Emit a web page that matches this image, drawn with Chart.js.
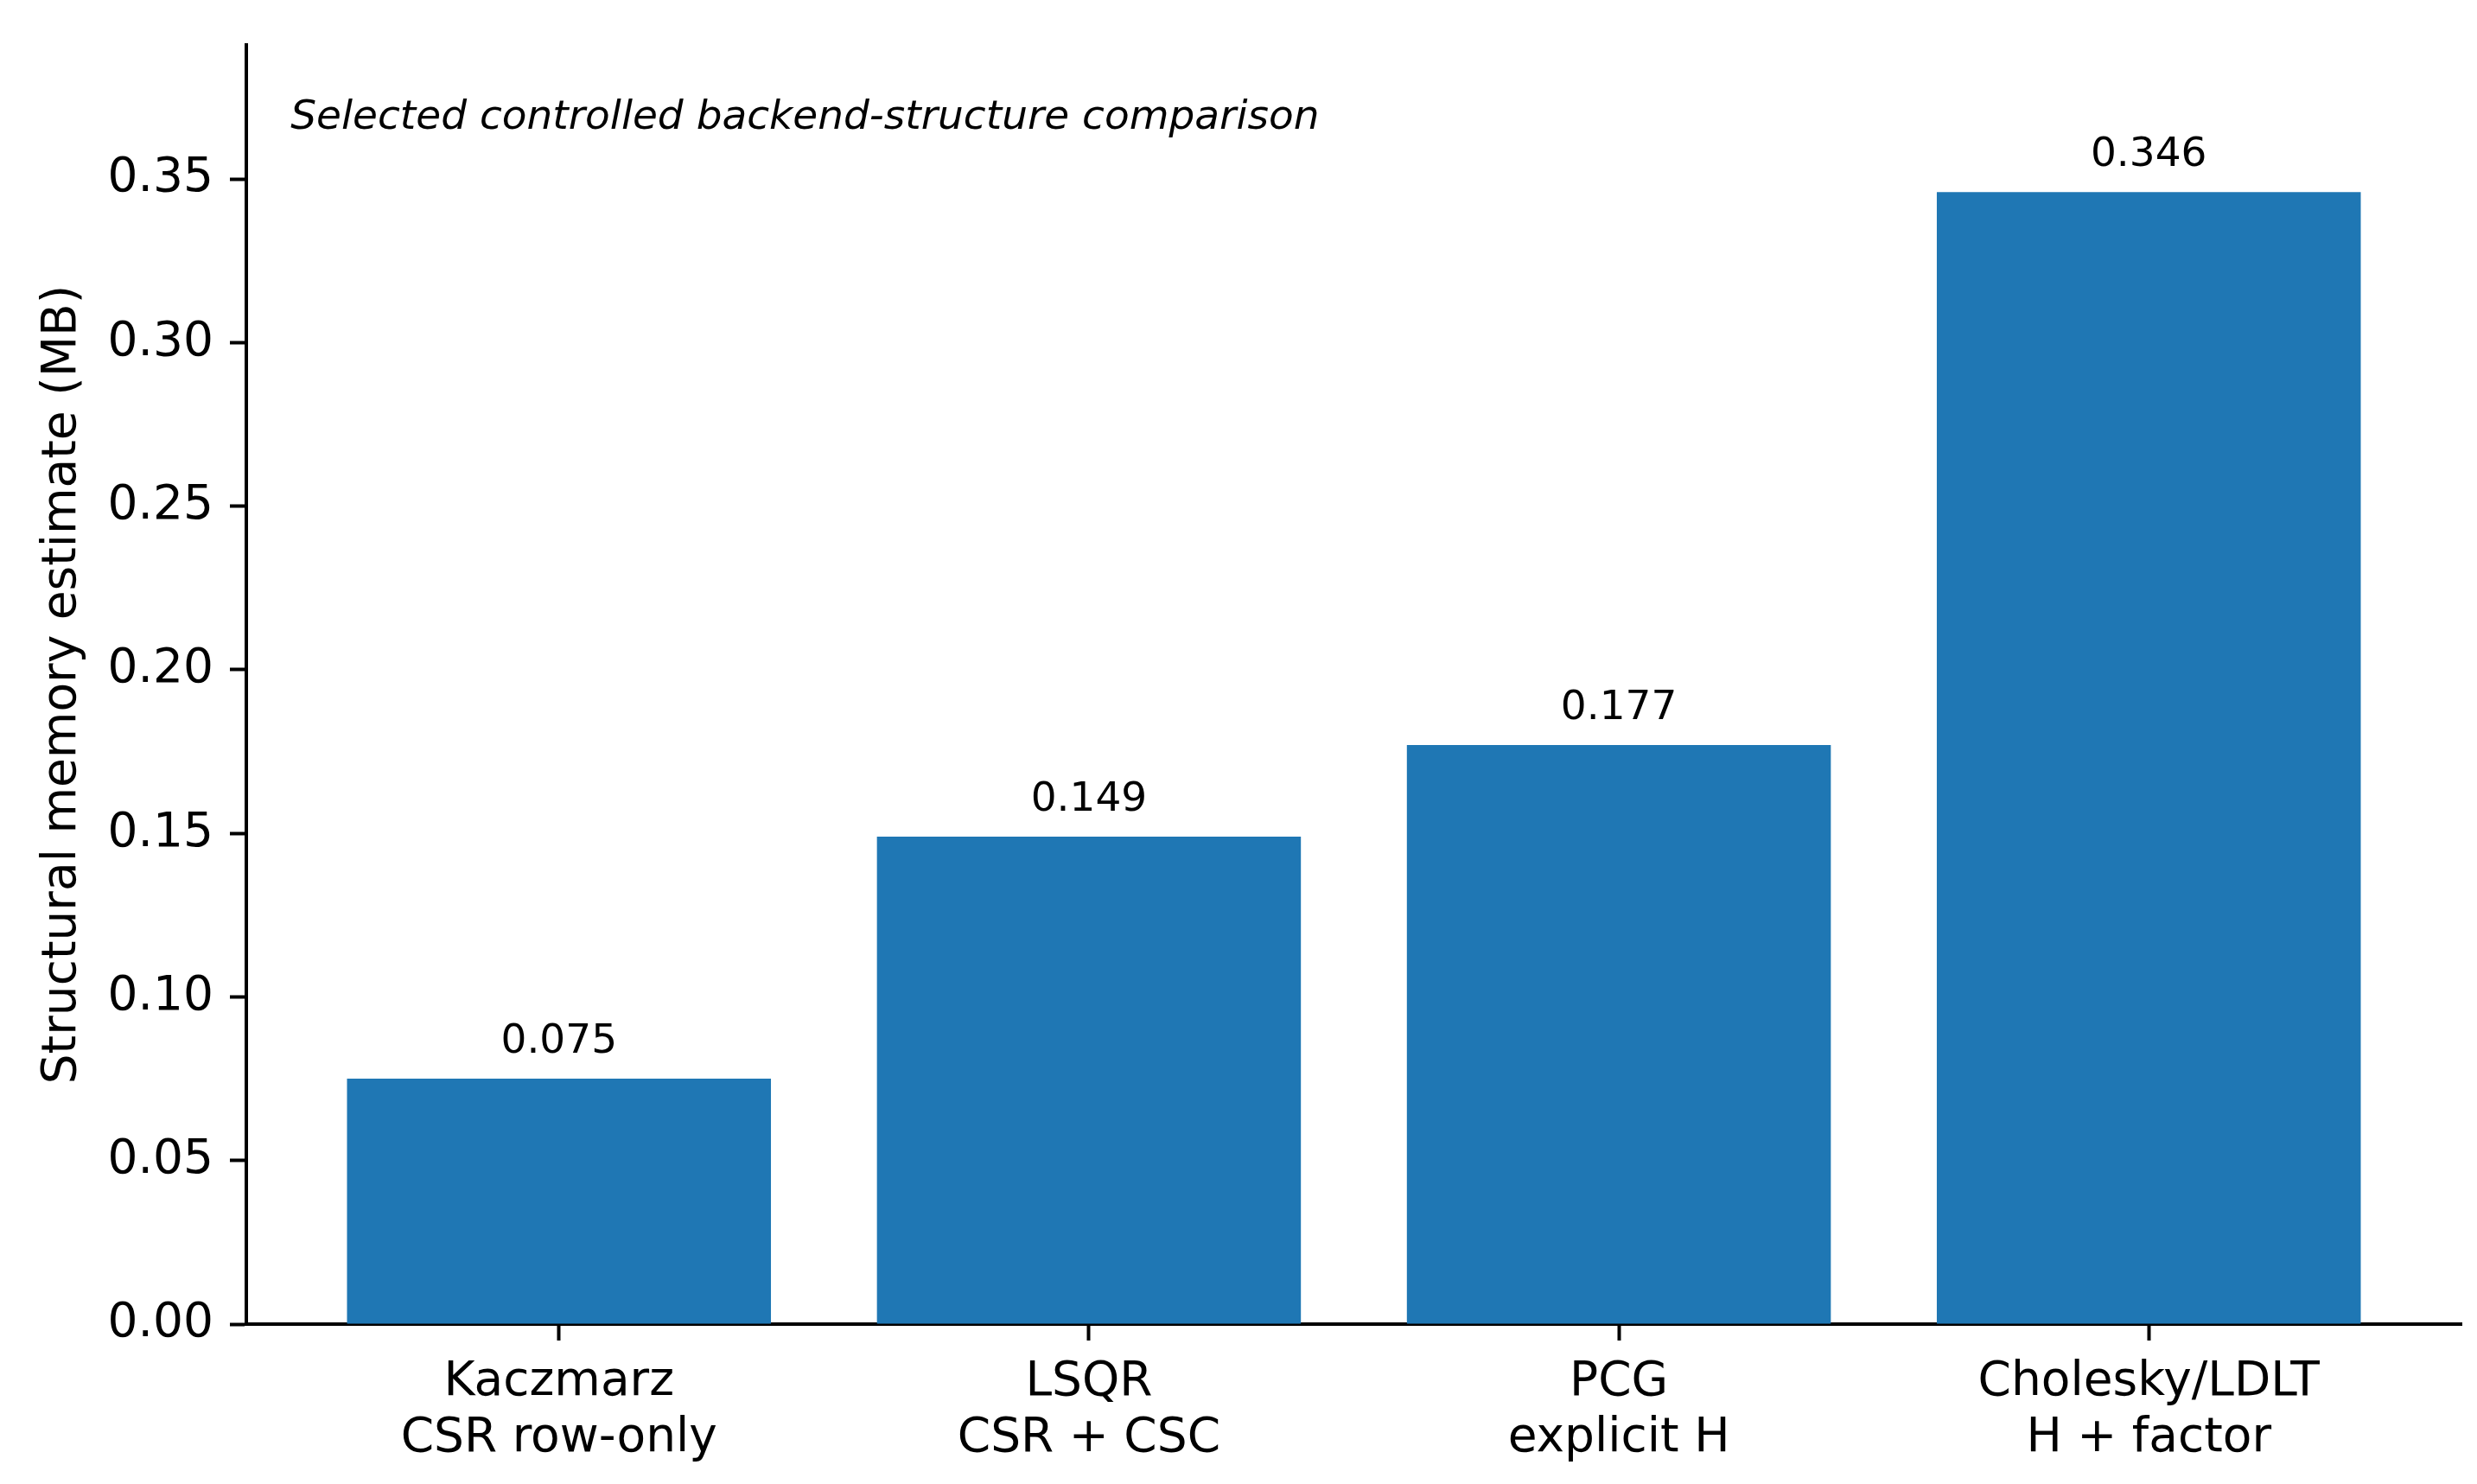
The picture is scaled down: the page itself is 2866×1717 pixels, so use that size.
<!DOCTYPE html>
<html>
<head>
<meta charset="utf-8">
<title>Structural memory estimate</title>
<script src="https://cdn.jsdelivr.net/npm/chart.js@4/dist/chart.umd.min.js"></script>
<style>
  html, body { margin: 0; padding: 0; background: #ffffff; }
  canvas { display: block; }
</style>
</head>
<body>
<canvas id="chart" width="2866" height="1717"></canvas>
<script>
/* =========================
   DATA
========================= */

const backends = ["Kaczmarz", "LSQR", "PCG", "Cholesky/LDLT"];
const structures = ["CSR row-only", "CSR + CSC", "explicit H", "H + factor"];
const memoryMB = [0.075, 0.149, 0.177, 0.346];

const yTicks = [0.00, 0.05, 0.10, 0.15, 0.20, 0.25, 0.30, 0.35];
const xTicks = [0, 1, 2, 3];

const panelNote = "Selected controlled backend-structure comparison";
const yTitle = "Structural memory estimate (MB)";

/* =========================
   STYLE
========================= */

const FONT = "'DejaVu Sans', sans-serif";
const BAR = "#1f77b4";

/* value labels above the bars */
const valueLabels = {
  id: "valueLabels",
  afterDatasetsDraw(chart) {
    const ctx = chart.ctx;
    const meta = chart.getDatasetMeta(0);
    ctx.save();
    ctx.fillStyle = "#000";
    ctx.font = "47px " + FONT;
    ctx.textAlign = "center";
    ctx.textBaseline = "alphabetic";
    meta.data.forEach((bar, i) => {
      ctx.fillText(memoryMB[i].toFixed(3), bar.x, bar.y - 30);
    });
    ctx.restore();
  }
};

/* italic note in the top-left of the axes */
const noteText = {
  id: "noteText",
  afterDraw(chart) {
    const a = chart.chartArea;
    const ctx = chart.ctx;
    ctx.save();
    ctx.fillStyle = "#000";
    ctx.font = "italic 47px " + FONT;
    ctx.textAlign = "left";
    ctx.textBaseline = "alphabetic";
    ctx.fillText(panelNote, a.left + 0.02 * (a.right - a.left), a.top + 97);
    ctx.restore();
  }
};

new Chart(document.getElementById("chart"), {
  type: "bar",
  data: {
    datasets: [{
      data: memoryMB.map((v, i) => ({ x: xTicks[i], y: v })),
      backgroundColor: BAR,
      borderWidth: 0,
      barPercentage: 0.8,
      categoryPercentage: 1.0
    }]
  },
  options: {
    responsive: false,
    animation: false,
    devicePixelRatio: 1,
    layout: { padding: { top: 51, right: 18, left: 0, bottom: 0 } },
    plugins: {
      legend: { display: false },
      tooltip: { enabled: false }
    },
    scales: {
      x: {
        type: "linear",
        min: -0.59,
        max: 3.59,
        offset: false,
        afterBuildTicks: s => { s.ticks = xTicks.map(v => ({ value: v })); },
        afterFit: s => { s.height = 185; },
        border: { display: true, color: "#000", width: 4 },
        grid: {
          display: true,
          offset: false,
          drawOnChartArea: false,
          drawTicks: true,
          tickLength: 19,
          tickWidth: 4,
          tickColor: "#000"
        },
        ticks: {
          color: "#000",
          font: { family: FONT, size: 55, lineHeight: 1.17 },
          padding: 17,
          maxRotation: 0,
          autoSkip: false,
          callback: v => [backends[v], structures[v]]
        }
      },
      y: {
        type: "linear",
        min: 0,
        max: 0.391,
        afterBuildTicks: s => { s.ticks = yTicks.map(v => ({ value: v })); },
        afterFit: s => { s.width = 285; },
        border: { display: true, color: "#000", width: 4 },
        grid: {
          display: true,
          drawOnChartArea: false,
          drawTicks: true,
          tickLength: 19,
          tickWidth: 4,
          tickColor: "#000"
        },
        ticks: {
          color: "#000",
          font: { family: FONT, size: 55 },
          padding: 19,
          callback: v => v.toFixed(2)
        },
        title: {
          display: true,
          text: yTitle,
          color: "#000",
          font: { family: FONT, size: 55, lineHeight: 1.2 },
          padding: { top: 40, bottom: 0 }
        }
      }
    }
  },
  plugins: [valueLabels, noteText]
});
</script>
</body>
</html>
